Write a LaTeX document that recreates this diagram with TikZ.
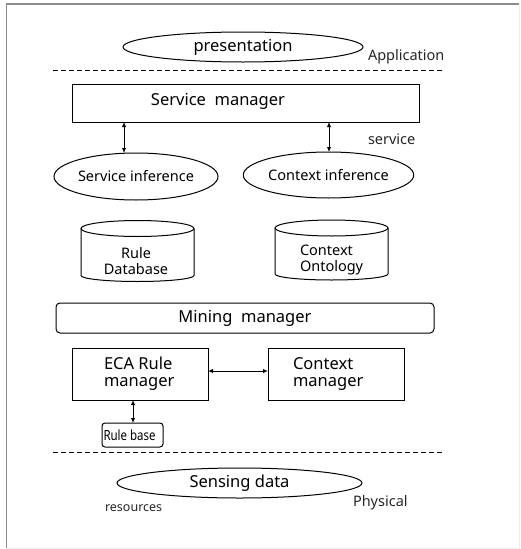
\documentclass[tikz,border=0pt]{standalone}
\usepackage{fontspec}
\setmainfont{Noto Sans}
\usetikzlibrary{shapes.geometric,arrows.meta}
\tikzset{
  every node/.style={inner sep=0pt, outer sep=0pt},
  lay/.style={draw=black, line width=1pt},
  oval/.style={lay, ellipse},
  box/.style={lay, rectangle},
  sep/.style={draw=black, line width=1pt, dash pattern=on 5pt off 3pt},
  link/.style={draw=black, line width=1pt, {Latex[length=5pt,width=4.5pt]}-{Latex[length=5pt,width=4.5pt]}},
  big/.style={font=\fontsize{16.5}{19}\selectfont},
  mid/.style={font=\fontsize{14.5}{17}\selectfont},
  small/.style={font=\fontsize{14.5}{17}\selectfont, text=black!85},
  tiny/.style={font=\fontsize{12.5}{15}\selectfont, text=black!85},
}
\begin{document}
\begin{tikzpicture}[x=1pt,y=1pt]
\useasboundingbox (0,0) rectangle (520,-549);
% outer frame
\draw[draw=black!45, line width=1.6pt] (6.5,-548) -- (6.5,-4) -- (519,-4);
\draw[draw=black!8, line width=1pt] (519,-4) -- (519,-548) -- (6.5,-548);

% application layer
\node[oval, big, minimum width=240, minimum height=30] (pres) at (243,-47) {presentation};
\node[small, anchor=west] (app) at (368,-57) {Application};
\coordinate (d1a) at (53,-70);
\coordinate (d1b) at (443,-70);
\draw[sep] (d1a) -- (d1b);

% service layer
\node[box, minimum width=347, minimum height=38] (sm) at (245.5,-103) {};
\node[big] (smt) at (218,-101) {Service\ \ manager};
\node[oval, mid, minimum width=154, minimum height=47] (si) at (136,-176.5) {Service inference};
\node[oval, mid, minimum width=153, minimum height=46] (ci) at (328.5,-175) {Context inference};
\node[small, anchor=west] (svc) at (368,-139) {service};
\draw[link] (sm.south -| 124,0) -- (si.north -| 124,0);
\draw[link] (sm.south -| 329,0) -- (ci.north -| 329,0);

% databases
\node[minimum width=113, minimum height=61] (rdb) at (137.5,-251) {};
\node[minimum width=113, minimum height=60] (cdb) at (331.5,-250) {};
\foreach \c in {rdb,cdb}{
  \draw[lay] ([yshift=-8]\c.north west) -- ([yshift=6]\c.south west)
    arc[start angle=180, end angle=360, x radius=56.5, y radius=6]
    -- ([yshift=-8]\c.north east);
  \draw[lay] ([yshift=-8]\c.north) ellipse[x radius=56.5, y radius=8];
}
\node[mid, align=center] (rdbt) at (136,-261) {Rule\\[-1pt]Database};
\node[mid, align=left, anchor=west] (cdbt) at (300,-260) {Context\\[-1pt]Ontology};

% mining layer
\node[box, rounded corners=4pt, big, minimum width=378, minimum height=30] (mm) at (245,-318) {Mining\ \ manager};
\node[box, minimum width=136, minimum height=52] (eca) at (140,-374) {};
\node[big, align=left, anchor=west] (ecat) at (104,-374) {ECA Rule\\[-2pt]manager};
\node[box, minimum width=136, minimum height=52] (cm) at (336,-374) {};
\node[big, align=left, anchor=west] (cmt) at (293,-374) {Context\\[-2pt]manager};
\draw[link] (eca.east |- 0,-371) -- (cm.west |- 0,-371);
\node[box, rounded corners=3pt, minimum width=61, minimum height=24] (rb) at (132.5,-435) {};
\node[font=\fontsize{14}{16}\selectfont, anchor=west] (rbt) at (103.5,-435) {\scalebox{0.82}[1]{Rule base}};
\draw[link] (eca.south -| 133,0) -- (rb.north -| 133,0);

% physical layer
\coordinate (d2a) at (53,-452);
\coordinate (d2b) at (443,-452);
\draw[sep] (d2a) -- (d2b);
\node[oval, big, minimum width=245, minimum height=30] (sd) at (239.5,-483) {Sensing data};
\node[tiny, anchor=west] (res) at (105,-508) {resources};
\node[small, anchor=west] (phy) at (353,-503) {Physical};
\end{tikzpicture}
\end{document}
